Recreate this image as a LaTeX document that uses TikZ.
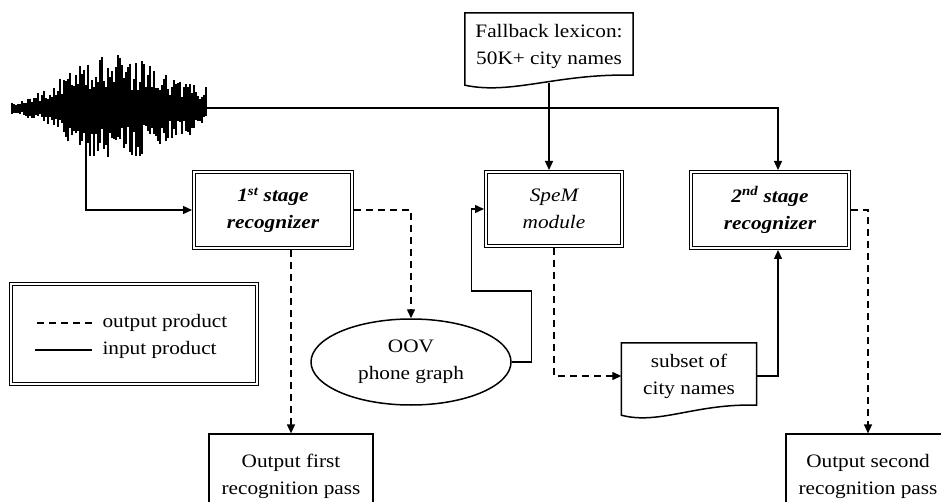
\documentclass[tikz,border=0pt]{standalone}
\usepackage{fontspec}
\setmainfont{Liberation Serif}[FakeStretch=1.12]
\usetikzlibrary{arrows.meta,shapes.geometric,calc}

\newcommand\docframe[1]{%
  \draw[line width=1.5pt] (#1.north west) -- (#1.north east) -- ([yshift=4pt]#1.south east)
    .. controls ($(#1.south east)!0.45!(#1.south west)+(0,-6)$) and ($(#1.south east)!0.72!(#1.south west)+(0,16)$)
    .. ([yshift=-6pt]#1.south west) -- cycle;}

\begin{document}
\begin{tikzpicture}[x=1pt,y=-1pt,
  font=\fontsize{19}{27}\selectfont,
  stage/.style={draw,double,double distance=2pt,line width=1pt,outer sep=2pt,align=center,minimum width=158pt,minimum height=76pt,font=\fontsize{19}{27}\selectfont\bfseries\itshape},
  module/.style={stage,minimum width=136pt,minimum height=74pt,font=\fontsize{19}{27}\selectfont\itshape},
  doc/.style={align=center,minimum height=66pt},
  outbox/.style={draw,line width=1.2pt,align=center,minimum width=164pt,minimum height=84pt},
  arrow/.style={-{Triangle[length=9pt,width=8pt]},line width=1.4pt},
  outarrow/.style={arrow,dash pattern=on 7pt off 5pt}
]
\useasboundingbox (0,0) rectangle (941,502);

\pgfmathsetseed{11}
\foreach \i in {0,...,97} {
  \pgfmathsetmacro{\wx}{12+2*\i}
  \pgfmathsetmacro{\wide}{(\wx<100) ? 50 : 100}
  \pgfmathsetmacro{\env}{4+52*exp(0-((\wx-100)/\wide)^2)}
  \pgfmathsetmacro{\up}{\env*(0.35+0.65*rnd)}
  \pgfmathsetmacro{\dn}{\env*(0.35+0.65*rnd)}
  \draw[line width=1.1pt] (\wx,{108-\up}) -- (\wx,{108+\dn});
}
\draw[line width=1.5pt] (12,108) -- (207,108);

\node[doc,minimum width=168pt] (lex) at (549,46) {Fallback lexicon:\\50K+ city names};
\docframe{lex}
\node[stage] (first) at (273,210) {1\textsuperscript{st} stage\\recognizer};
\node[module] (spem) at (554,209) {SpeM\\module};
\node[stage] (second) at (770,210) {2\textsuperscript{nd} stage\\recognizer};
\node[ellipse,draw,line width=1.5pt,align=center,minimum width=200pt,minimum height=86pt] (oov) at (411,362) {OOV\\phone graph};
\node[doc,minimum width=135pt] (subset) at (689,376) {subset of\\city names};
\docframe{subset}
\node[outbox] (out1) at (291,476) {Output first\\recognition pass};
\node[outbox] (out2) at (868,476) {Output second\\recognition pass};

\node[draw,double,double distance=2pt,line width=1pt,minimum width=246pt,minimum height=100pt] (legend) at (134,334) {};
\node[anchor=west] (outlbl) at (99,323) {output product};
\node[anchor=west] (inlbl) at (99,350) {input product};
\draw[line width=1.4pt,dash pattern=on 7pt off 5pt] ([xshift=-7pt]outlbl.west) -- ++(-57,0);
\draw[line width=1.4pt] ([xshift=-7pt]inlbl.west) -- ++(-57,0);

\coordinate (wtap) at (86,108);
\coordinate (wend) at (207,108);
\draw[arrow] (wtap) |- (first.west);
\draw[arrow] (wend) -| ([xshift=8pt]second.north);
\draw[arrow] ([yshift=-4pt]lex.south) -- (lex.south |- spem.north);
\draw[outarrow] (first.east) -| (oov.north);
\draw[outarrow] (first.south -| out1.north) -- (out1.north);
\draw[arrow] (oov.east) -- ++(20,0) -- ++(0,-71) -- ++(-60,0) |- (spem.west);
\draw[outarrow] (spem.south) |- (subset.west);
\draw[arrow] (subset.east) -| ([xshift=8pt]second.south);
\draw[outarrow] (second.east) -| (out2.north);
\end{tikzpicture}
\end{document}
